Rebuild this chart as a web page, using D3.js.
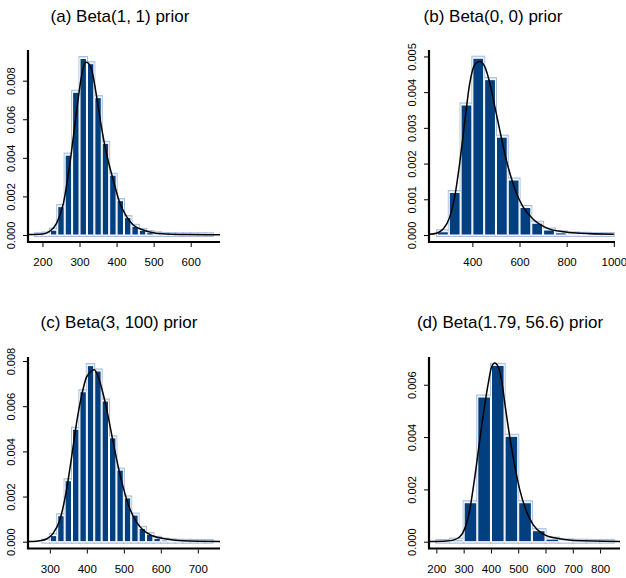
<!DOCTYPE html>
<html>
<head>
<meta charset="utf-8">
<script src="https://cdn.jsdelivr.net/npm/d3@7"></script>
<style>
  body { margin: 0; background: #fff; }
  text { font-family: "Liberation Sans", Arial, Helvetica, sans-serif; fill: #000; }
</style>
</head>
<body>
<svg id="chart" width="626" height="578"></svg>
<script>
// ---- data ----
// (a) Beta(1, 1) prior : bins of width 20
var aBinStart = [180, 200, 220, 240, 260, 280, 300, 320, 340, 360, 380, 400, 420, 440, 460, 480, 500, 520, 540, 560, 580, 600, 620, 640]
var aDensity = [0.00001, 0.00005, 0.00025, 0.00147, 0.00414, 0.0074, 0.00915, 0.00888, 0.00712, 0.00475, 0.0031, 0.00178, 0.0009, 0.00045, 0.00024, 0.00012, 0.00006, 0.00003, 0.00002, 0.00001, 0.00001, 0.00001, 0.00001, 0.00001]
var aCurveX = [161, 200, 220, 238, 256, 274, 292, 305, 314, 319, 332, 346, 359, 373, 391, 409, 427, 445, 472, 499, 535, 589, 679]
var aCurveY = [0.00002, 0.00005, 0.0002, 0.0006, 0.0016, 0.0037, 0.0064, 0.0082, 0.0089, 0.00895, 0.0086, 0.0072, 0.0056, 0.0042, 0.00285, 0.00164, 0.00095, 0.00052, 0.00026, 0.00012, 0.00005, 0.00002, 0.00001]
var aXTicks = [200, 300, 400, 500, 600]
var aYTicks = [0, 0.002, 0.004, 0.006, 0.008]

// (b) Beta(0, 0) prior : bins of width 50
var bBinStart = [250, 300, 350, 400, 450, 500, 550, 600, 650, 700, 750, 800, 850, 900, 950]
var bDensity = [0.00009, 0.00119, 0.00364, 0.00495, 0.00435, 0.00274, 0.00154, 0.00077, 0.00033, 0.00014, 0.00006, 0.00003, 0.00002, 0.00001, 0.00001]
var bCurveX = [218, 247, 275, 304, 325, 346, 367, 389, 410, 431, 452, 474, 495, 516, 537, 559, 587, 615, 658, 714, 785, 856, 1000]
var bCurveY = [0.00002, 0.00005, 0.00016, 0.0005, 0.00107, 0.002, 0.00313, 0.00425, 0.00477, 0.00486, 0.00472, 0.00425, 0.0036, 0.00294, 0.00229, 0.00173, 0.00117, 0.00079, 0.00044, 0.0002, 0.00009, 0.00005, 0.00002]
var bXTicks = [400, 600, 800, 1000]
var bYTicks = [0, 0.001, 0.002, 0.003, 0.004, 0.005]

// (c) Beta(3, 100) prior : bins of width 20
var cBinStart = [280, 300, 320, 340, 360, 380, 400, 420, 440, 460, 480, 500, 520, 540, 560, 580, 600, 620, 640, 660, 680, 700, 720]
var cDensity = [0.00002, 0.00027, 0.00115, 0.0027, 0.00498, 0.00664, 0.0078, 0.00756, 0.00623, 0.0046, 0.00317, 0.00194, 0.00118, 0.00059, 0.00032, 0.00015, 0.00007, 0.00004, 0.00002, 0.00002, 0.00001, 0.00001, 0.00001]
var cCurveX = [243, 255, 273, 291, 309, 327, 345, 359, 372, 386, 399, 413, 420, 431, 444, 458, 471, 485, 498, 516, 534, 552, 579, 615, 660, 760]
var cCurveY = [0.00001, 0.00001, 0.00004, 0.00012, 0.00037, 0.00096, 0.00228, 0.00376, 0.00523, 0.00648, 0.00729, 0.00756, 0.00761, 0.00729, 0.00655, 0.00552, 0.00442, 0.00331, 0.00243, 0.00147, 0.00088, 0.00052, 0.00025, 0.00012, 0.00004, 0.00001]
var cXTicks = [300, 400, 500, 600, 700]
var cYTicks = [0, 0.002, 0.004, 0.006, 0.008]

// (d) Beta(1.79, 56.6) prior : bins of width 50
var dBinStart = [200, 250, 300, 350, 400, 450, 500, 550, 600, 650, 700, 750, 800]
var dDensity = [0.00001, 0.00006, 0.00149, 0.00553, 0.00674, 0.00403, 0.00149, 0.00042, 0.0001, 0.00003, 0.00002, 0.00001, 0.00001]
var dCurveX = [176, 237, 261, 286, 304, 322, 341, 359, 378, 390, 402, 414, 427, 439, 451, 469, 488, 506, 531, 555, 592, 641, 702, 873]
var dCurveY = [0.00001, 0.00003, 0.00006, 0.00019, 0.0005, 0.0012, 0.00248, 0.00388, 0.00528, 0.00604, 0.00667, 0.00683, 0.00667, 0.00617, 0.00528, 0.004, 0.00286, 0.00197, 0.00114, 0.00064, 0.00029, 0.00013, 0.00005, 0.00001]
var dXTicks = [200, 300, 400, 500, 600, 700, 800]
var dYTicks = [0, 0.002, 0.004, 0.006]

var titles = ["(a) Beta(1, 1) prior", "(b) Beta(0, 0) prior", "(c) Beta(3, 100) prior", "(d) Beta(1.79, 56.6) prior"]

// ---- layout of the four panels ----
var panels = [
    { title: titles[0], binStart: aBinStart, binWidth: 20, dens: aDensity, cx: aCurveX, cy: aCurveY, xTicks: aXTicks, yTicks: aYTicks,
      left: 28, right: 220, top: 50, zero: 235, bottom: 242, xDom: [161, 679], yMax: 0.00959, titleX: 120, titleY: 21.5 },
    { title: titles[1], binStart: bBinStart, binWidth: 50, dens: bDensity, cx: bCurveX, cy: bCurveY, xTicks: bXTicks, yTicks: bYTicks,
      left: 429, right: 615, top: 50, zero: 235, bottom: 242, xDom: [216, 1005], yMax: 0.00518, titleX: 493, titleY: 21.5 },
    { title: titles[2], binStart: cBinStart, binWidth: 20, dens: cDensity, cx: cCurveX, cy: cCurveY, xTicks: cXTicks, yTicks: cYTicks,
      left: 28, right: 220, top: 357, zero: 541.7, bottom: 548.5, xDom: [241, 760], yMax: 0.00818, titleX: 119, titleY: 328 },
    { title: titles[3], binStart: dBinStart, binWidth: 50, dens: dDensity, cx: dCurveX, cy: dCurveY, xTicks: dXTicks, yTicks: dYTicks,
      left: 429, right: 620, top: 357, zero: 541.7, bottom: 548.5, xDom: [173, 873], yMax: 0.00706, titleX: 510, titleY: 328 }
]

var svg = d3.select("#chart")

panels.forEach(function (p) {
    var g = svg.append("g")

    var x = d3.scaleLinear().domain(p.xDom).range([p.left, p.right])
    var y = d3.scaleLinear().domain([0, p.yMax]).range([p.zero, p.top])

    var bins = p.binStart.map(function (s, i) { return { x0: s, x1: s + p.binWidth, v: p.dens[i] } })

    // pale "shadow" histogram behind
    g.selectAll("rect.back")
        .data(bins)
        .enter()
        .append("rect")
        .attr("class", "back")
        .attr("x", function (d) { return x(d.x0) - 0.5 })
        .attr("y", function (d) { return y(d.v) - 2 })
        .attr("width", function (d) { return x(d.x1) - x(d.x0) + 1 })
        .attr("height", function (d) { return p.zero + 1.5 - (y(d.v) - 2) })
        .attr("fill", "#e6ecf5")
        .attr("stroke", "#a6bcda")
        .attr("stroke-width", 1)

    // dark bars with white borders
    g.selectAll("rect.front")
        .data(bins)
        .enter()
        .append("rect")
        .attr("class", "front")
        .attr("x", function (d) { return x(d.x0) + 0.5 })
        .attr("y", function (d) { return y(d.v) })
        .attr("width", function (d) { return x(d.x1) - x(d.x0) - 1 })
        .attr("height", function (d) { return Math.max(0, p.zero - y(d.v)) })
        .attr("fill", "#023f7e")
        .attr("stroke", "#fff")
        .attr("stroke-width", 1)

    // density curve
    var pts = p.cx.map(function (v, i) { return [v, p.cy[i]] })
    var line = d3.line()
        .x(function (d) { return x(d[0]) })
        .y(function (d) { return y(d[1]) })
        .curve(d3.curveMonotoneX)
    g.append("path")
        .datum(pts)
        .attr("d", line)
        .attr("fill", "none")
        .attr("stroke", "#000")
        .attr("stroke-width", 1.5)

    // L-shaped box
    g.append("path")
        .attr("d", "M" + p.left + "," + p.top + "V" + p.bottom + "H" + p.right)
        .attr("fill", "none")
        .attr("stroke", "#000")
        .attr("stroke-width", 2.2)

    // x axis ticks + labels
    var xAxis = d3.axisBottom(x).tickValues(p.xTicks).tickSize(4).tickPadding(11).tickFormat(d3.format("d"))
    var xa = g.append("g")
        .attr("transform", "translate(0," + (p.bottom + 1) + ")")
        .call(xAxis)
    xa.select(".domain").remove()
    xa.selectAll("text").style("font-size", "11.5px").attr("fill", "#000")

    // y axis ticks + rotated labels
    var yAxis = d3.axisLeft(y).tickValues(p.yTicks).tickSize(4).tickFormat(d3.format(".3f"))
    var ya = g.append("g")
        .attr("transform", "translate(" + (p.left - 1) + ",0)")
        .call(yAxis)
    ya.select(".domain").remove()
    ya.selectAll("text")
        .attr("x", null)
        .attr("dy", null)
        .attr("transform", "translate(-12,0) rotate(-90)")
        .attr("text-anchor", "middle")
        .style("font-size", "11px")
        .attr("fill", "#000")

    // title
    svg.append("text")
        .attr("x", p.titleX)
        .attr("y", p.titleY)
        .attr("text-anchor", "middle")
        .style("font-size", "17px")
        .text(p.title)
})
</script>
</body>
</html>
